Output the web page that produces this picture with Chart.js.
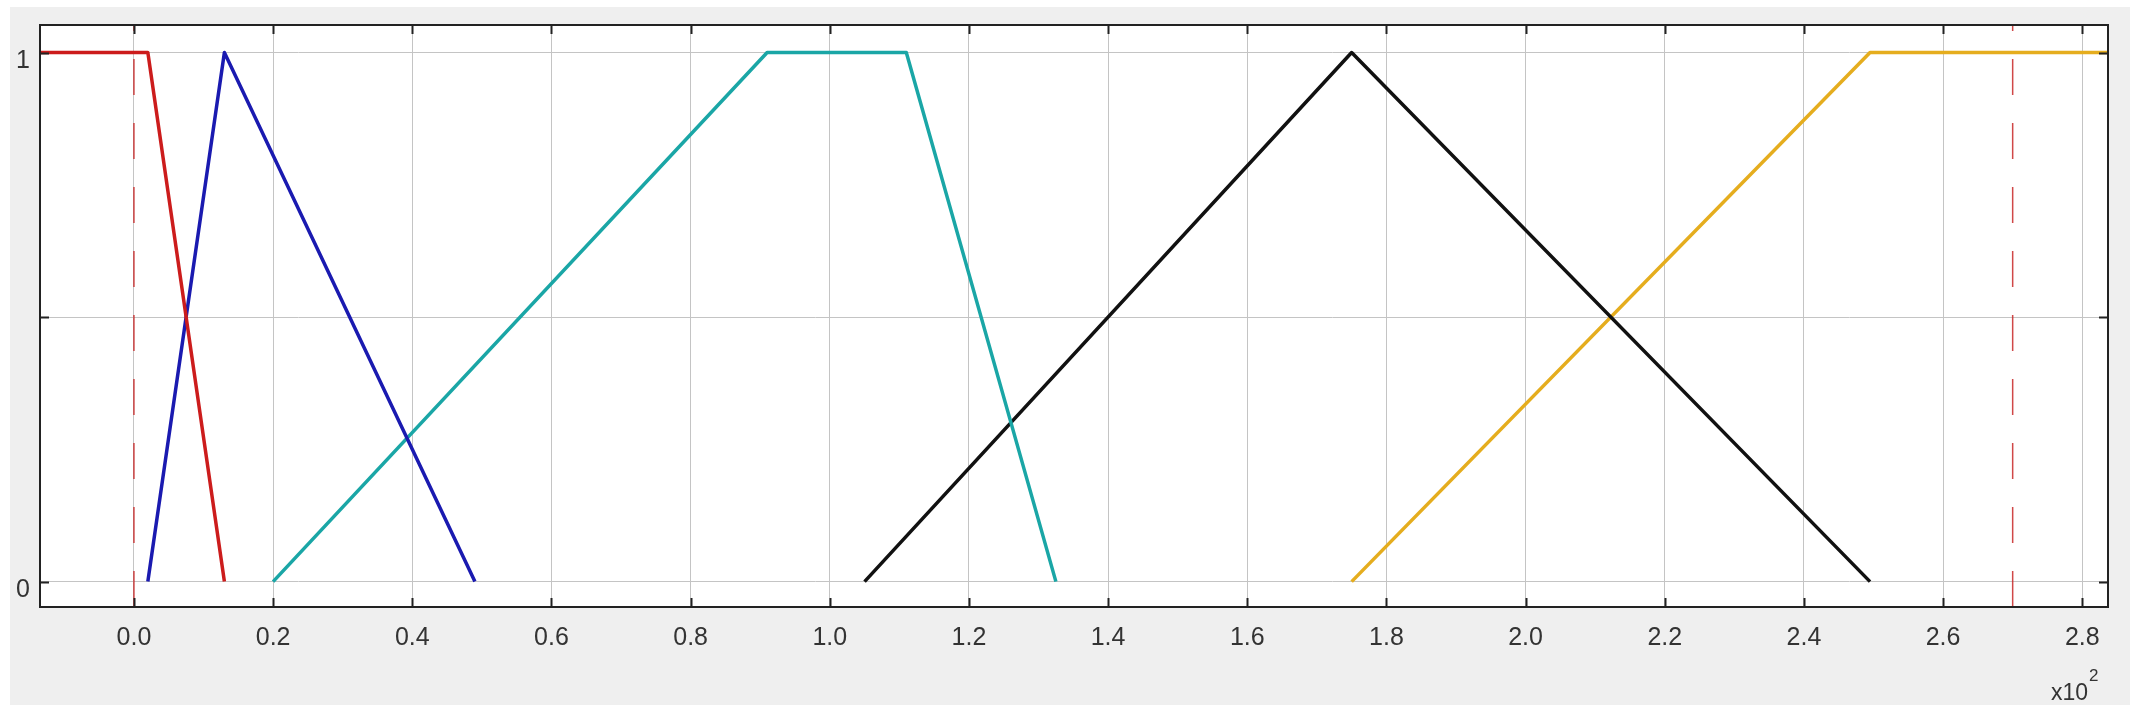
<!DOCTYPE html>
<html>
<head>
<meta charset="utf-8">
<script src="https://cdn.jsdelivr.net/npm/chart.js@4/dist/chart.umd.min.js"></script>
<style>
  html, body { margin: 0; padding: 0; background: #ffffff; }
  #wrap { width: 2142px; height: 712px; }
</style>
</head>
<body>
<div id="wrap"><canvas id="c" width="2142" height="712"></canvas></div>
<script>
// ---- data (x in units of 10^2) ----
const xTicks = [0, 0.2, 0.4, 0.6, 0.8, 1.0, 1.2, 1.4, 1.6, 1.8, 2.0, 2.2, 2.4, 2.6, 2.8];
const yTicks = [0, 0.5, 1];
const yTickLabels = ['0', '', '1'];
const xMin = -0.135, xMax = 2.837;
const yMin = -0.048, yMax = 1.052;

const redX = [-0.135, 0.02, 0.13];
const redY = [1, 1, 0];
const blueX = [0.02, 0.13, 0.49];
const blueY = [0, 1, 0];
const cyanX = [0.2, 0.91, 1.11, 1.325];
const cyanY = [0, 1, 1, 0];
const blackX = [1.05, 1.75, 2.495];
const blackY = [0, 1, 0];
const yellowX = [1.75, 2.495, 2.837];
const yellowY = [0, 1, 1];
const refX = [0, 2.7];          // red dashed reference lines
const refY = [yMin, yMax];

function pts(xs, ys) { return xs.map((x, i) => ({ x: x, y: ys[i] })); }

const FONT = '"Liberation Sans", Arial, sans-serif';

function solid(label, xs, ys, color) {
  return { label, data: pts(xs, ys), borderColor: color, borderWidth: 3.5, pointRadius: 0,
           tension: 0, fill: false, borderJoinStyle: 'round' };
}
const datasets = [
  solid('red', redX, redY, '#cc1c1c'),
  solid('blue', blueX, blueY, '#1a1ab0'),
  solid('cyan', cyanX, cyanY, '#1aa6a6'),
  solid('black', blackX, blackY, '#111111'),
  solid('yellow', yellowX, yellowY, '#e5ad1e'),
];
refX.forEach((rx, i) => {
  datasets.push({ label: 'ref' + i, data: refY.map(y => ({ x: rx, y: y })),
    borderColor: 'rgba(200,40,40,0.85)', borderWidth: 1.5, borderDash: [36, 28],
    pointRadius: 0, tension: 0, fill: false });
});

const framePlugin = {
  id: 'frame',
  beforeDraw(chart) {
    const ctx = chart.ctx, a = chart.chartArea;
    ctx.save();
    ctx.fillStyle = '#ffffff';
    ctx.fillRect(0, 0, chart.width, chart.height);
    ctx.fillStyle = '#efefef';
    ctx.fillRect(10, 7, 2120, 698);
    ctx.fillStyle = '#ffffff';
    ctx.fillRect(a.left, a.top, a.right - a.left, a.bottom - a.top);
    ctx.restore();
  },
  afterDraw(chart) {
    const ctx = chart.ctx, a = chart.chartArea;
    const xs = chart.scales.x, ys = chart.scales.y;
    ctx.save();
    ctx.strokeStyle = '#222222';
    ctx.lineWidth = 2;
    ctx.strokeRect(a.left, a.top, a.right - a.left, a.bottom - a.top);
    ctx.beginPath();
    const L = 9;
    xTicks.forEach(v => {
      const px = Math.round(xs.getPixelForValue(v)) + 0.5;
      ctx.moveTo(px, a.top); ctx.lineTo(px, a.top + L);
      ctx.moveTo(px, a.bottom); ctx.lineTo(px, a.bottom - L);
    });
    yTicks.forEach(v => {
      const py = Math.round(ys.getPixelForValue(v)) + 0.5;
      ctx.moveTo(a.left, py); ctx.lineTo(a.left + L, py);
      ctx.moveTo(a.right, py); ctx.lineTo(a.right - L, py);
    });
    ctx.stroke();
    // exponent label
    ctx.fillStyle = '#333333';
    ctx.textBaseline = 'alphabetic';
    ctx.textAlign = 'left';
    ctx.font = '23px ' + FONT;
    ctx.fillText('x10', 2051, 700);
    ctx.font = '17px ' + FONT;
    ctx.fillText('2', 2089, 681);
    ctx.restore();
  }
};

new Chart(document.getElementById('c'), {
  type: 'line',
  data: { datasets },
  plugins: [framePlugin],
  options: {
    responsive: false,
    devicePixelRatio: 1,
    animation: false,
    layout: { padding: { top: 14, right: 34, left: 0, bottom: 0 } },
    plugins: { legend: { display: false }, tooltip: { enabled: false } },
    scales: {
      x: {
        type: 'linear', min: xMin, max: xMax,
        afterBuildTicks: s => { s.ticks = xTicks.map(v => ({ value: v })); },
        afterFit: s => { s.height = 105; },
        border: { display: false },
        grid: { color: '#c4c4c4', lineWidth: 1, drawTicks: false },
        ticks: { padding: 16, color: '#333333', font: { family: FONT, size: 25 },
                 maxRotation: 0, autoSkip: false,
                 callback: v => Number(v).toFixed(1) }
      },
      y: {
        type: 'linear', min: yMin, max: yMax,
        afterBuildTicks: s => { s.ticks = yTicks.map(v => ({ value: v })); },
        afterFit: s => { s.width = 40; },
        border: { display: false },
        grid: { color: '#c4c4c4', lineWidth: 1, drawTicks: false },
        ticks: { padding: 10, labelOffset: 9, color: '#333333', font: { family: FONT, size: 25 },
                 autoSkip: false,
                 callback: (v, i) => yTickLabels[yTicks.indexOf(v)] ?? '' }
      }
    }
  }
});
</script>
</body>
</html>
